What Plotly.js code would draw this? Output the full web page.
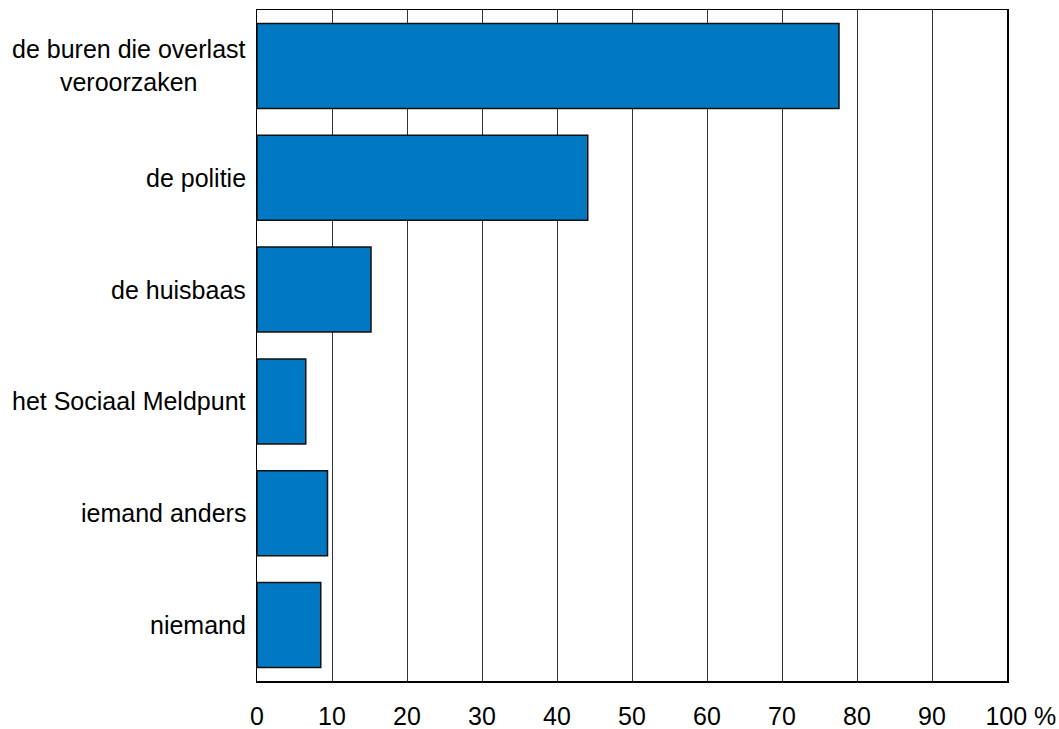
<!DOCTYPE html>
<html>
<head>
<meta charset="utf-8">
<script src="https://cdn.plot.ly/plotly-3.0.1.min.js"></script>
<style>html,body{margin:0;padding:0;background:#fff;}#chart{width:1059px;height:729px;}</style>
</head>
<body>
<div id="chart"></div>
<script>
const categories = ["de buren die overlast<br>veroorzaken", "de politie", "de huisbaas", "het Sociaal Meldpunt", "iemand anders", "niemand"];
const values = [77.6, 44.1, 15.2, 6.5, 9.4, 8.5];
const tickValues = [0, 10, 20, 30, 40, 50, 60, 70, 80, 90, 100];
const tickLabels = ["0", "10", "20", "30", "40", "50", "60", "70", "80", "90", "\u00a0\u00a0\u00a0\u00a0100 %"];

const fontFam = '"Liberation Sans", Arial, sans-serif';
const fs = 25;

const trace = {
  type: 'bar',
  orientation: 'h',
  y: categories,
  x: values,
  marker: {color: '#0079C2', line: {color: '#111111', width: 1.5}},
  hoverinfo: 'skip'
};

const annotations = categories.map(c => ({
  xref: 'paper', yref: 'y', x: 0, y: c,
  text: c, showarrow: false, xanchor: 'right', align: 'center',
  xshift: -9, font: {family: fontFam, size: fs, color: '#000'}
}));

const layout = {
  width: 1059, height: 729,
  margin: {l: 257, r: 52, t: 10, b: 48},
  paper_bgcolor: '#fff', plot_bgcolor: '#fff',
  showlegend: false,
  bargap: 0.24,
  font: {family: fontFam, size: fs, color: '#000'},
  xaxis: {
    range: [0, 100], tickvals: tickValues, ticktext: tickLabels,
    showgrid: true, gridcolor: '#333333', gridwidth: 1,
    showline: true, linecolor: '#000', linewidth: 1.5, mirror: true,
    zeroline: false, ticks: '', ticklabelstandoff: 12,
    tickfont: {family: fontFam, size: fs, color: '#000'}
  },
  yaxis: {
    type: 'category', autorange: 'reversed',
    showticklabels: false, showgrid: false, zeroline: false,
    showline: true, linecolor: '#000', linewidth: 1.5, mirror: true, ticks: ''
  },
  annotations: annotations
};

Plotly.newPlot('chart', [trace], layout, {staticPlot: true, displayModeBar: false});
</script>
</body>
</html>
